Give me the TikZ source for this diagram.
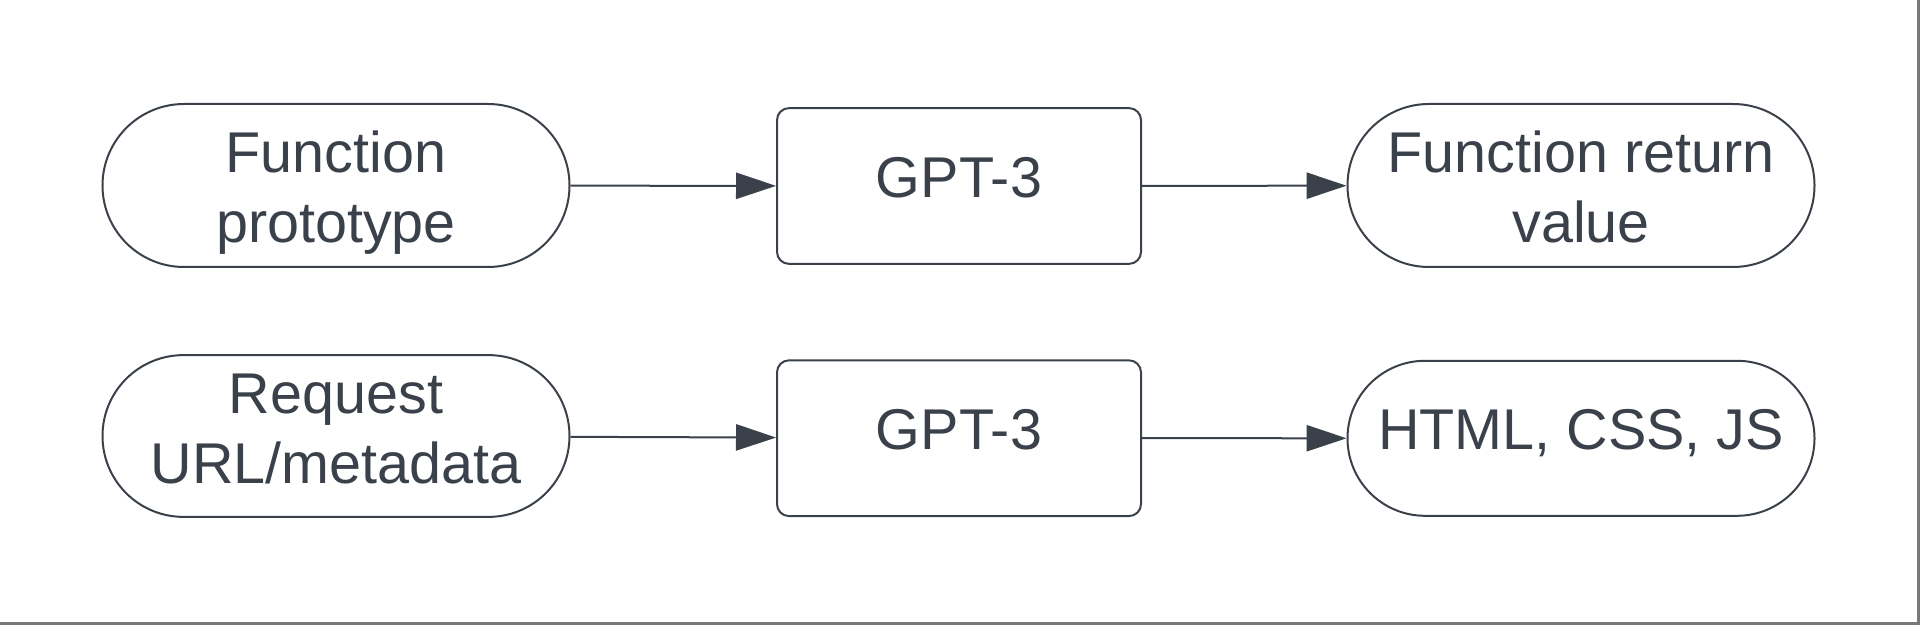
\documentclass[tikz,border=0pt]{standalone}
\usepackage{fontspec}
\setmainfont{Liberation Sans}
\usepackage{tikz}
\usetikzlibrary{arrows.meta}
\usetikzlibrary{positioning, shapes.misc}
\definecolor{ink}{RGB}{58,65,74}
\definecolor{edge}{RGB}{120,120,120}
\tikzset{every picture/.style={line width=0.8pt}}
\tikzset{
  io/.style={rounded rectangle, draw=ink, text=ink, inner sep=0pt,
    minimum width=186.8pt, minimum height=65.2pt, align=center,
    font=\fontsize{23}{28}\selectfont},
  model/.style={rectangle, rounded corners=4.8pt, draw=ink, text=ink,
    inner sep=0pt, minimum width=145.6pt, minimum height=62.3pt,
    font=\fontsize{23}{28}\selectfont},
  twoline/.style={text height=50.4pt, text depth=5pt},
  oneline/.style={text height=16.5pt, text depth=7.6pt},
  flow/.style={draw=ink, -{Triangle[length=16pt, width=10.5pt]}}
}
\begin{document}
\begin{tikzpicture}[x=0.4pt, y=-0.4pt]
\useasboundingbox (0,0) rectangle (1920,625);
\draw[edge, line width=1pt] (0,623.5) -- (1918.5,623.5) -- (1918.5,0);

\node[io, twoline] (proto) at (336,185.5) {Function\\prototype};
\node[model, oneline] (gpta) at (959,186) {GPT-3};
\node[io, twoline] (retval) at (1581,185.5) {Function return\\value};

\node[io, twoline, text height=44.5pt, text depth=6.5pt,
  minimum height=64.7pt] (req) at (336,436) {Request\\URL/metadata};
\node[model, oneline] (gptb) at (959,438.2) {GPT-3};
\node[io, oneline, minimum height=62pt] (web) at (1581,438.3) {HTML, CSS, JS};

\draw[flow] (proto) -- (gpta);
\draw[flow] (gpta) -- (retval);
\draw[flow] (req) -- (gptb);
\draw[flow] (gptb) -- (web);
\end{tikzpicture}
\end{document}
